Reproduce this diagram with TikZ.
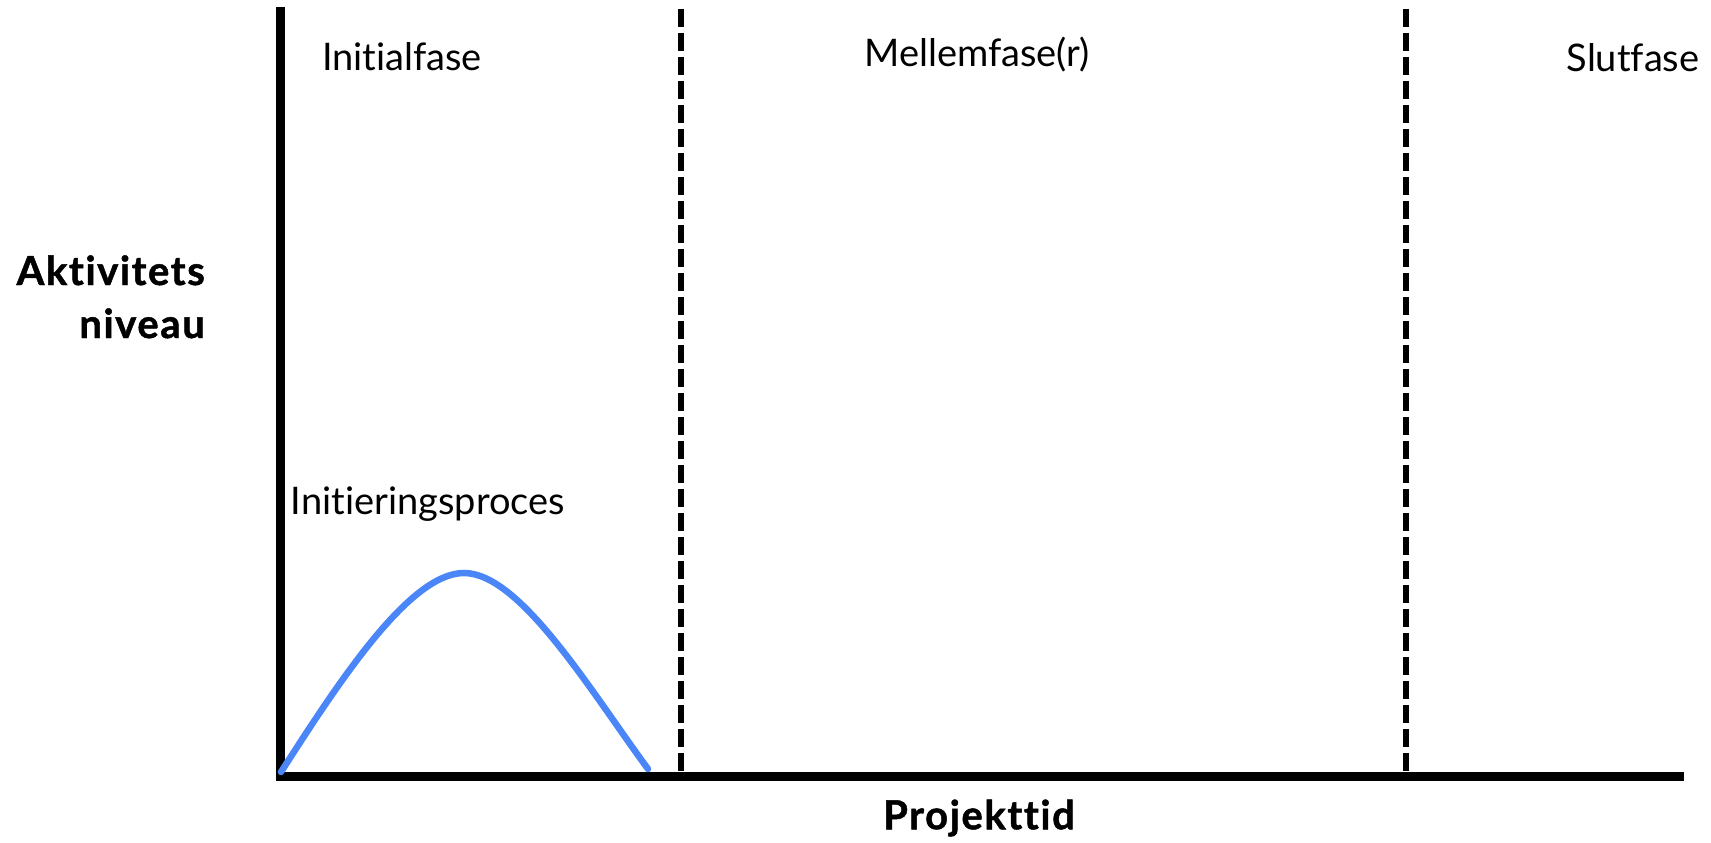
\documentclass[tikz,border=0pt]{standalone}
\usepackage{fontspec}
\setmainfont{Lato}[Ligatures=NoCommon]
\begin{document}
\begin{tikzpicture}[x=1pt,y=-1pt,
  axis/.style={line width=9pt,black},
  phaseline/.style={line width=5.5pt,black,dash pattern=on 18pt off 6pt},
  curveline/.style={line width=6.5pt,draw={rgb,255:red,74;green,134;blue,247},line cap=round},
  phase/.style={font=\fontsize{38}{44}\selectfont,inner sep=0pt},
  axislabel/.style={font=\fontsize{40}{46}\selectfont\bfseries\addfontfeatures{FakeBold=1.2,LetterSpace=4},inner sep=0pt}]
\useasboundingbox (0,0) rectangle (1711,843);
% axes
\coordinate (top) at (280,7);
\coordinate (origin) at (280,776);
\coordinate (xend) at (1684,776);
\draw[axis] (280,780) -- (top);
\draw[axis] (275.5,776) -- (xend);
% phase boundaries
\coordinate (d1top) at (681,9);
\coordinate (d1bot) at (681,772);
\coordinate (d2top) at (1406,9);
\coordinate (d2bot) at (1406,772);
\draw[phaseline] (d1top) -- (d1bot);
\draw[phaseline] (d2top) -- (d2bot);
% activity curve
\coordinate (c0) at (281,772);
\coordinate (cpeak) at (464,573);
\coordinate (c1) at (648,769);
\draw[curveline] (c0) .. controls (340,680) and (410,573) .. (cpeak)
  .. controls (520,573) and (590,690) .. (c1);
% labels
\node[phase] (initial) at (402,57) {Initialfase};
\node[phase] (mellem) at (977,55) {Mellemfase(r)};
\node[phase] (slut) at (1633,58) {Slutfase};
\node[phase] (proces) at (428,504) {Initieringsproces};
\node[axislabel,anchor=base east] (ylabel1) at (205,285) {Aktivitets};
\node[axislabel,anchor=base east] (ylabel2) at (205,338) {niveau};
\node[axislabel] (xlabel) at (979,818) {Projekttid};
\end{tikzpicture}
\end{document}
